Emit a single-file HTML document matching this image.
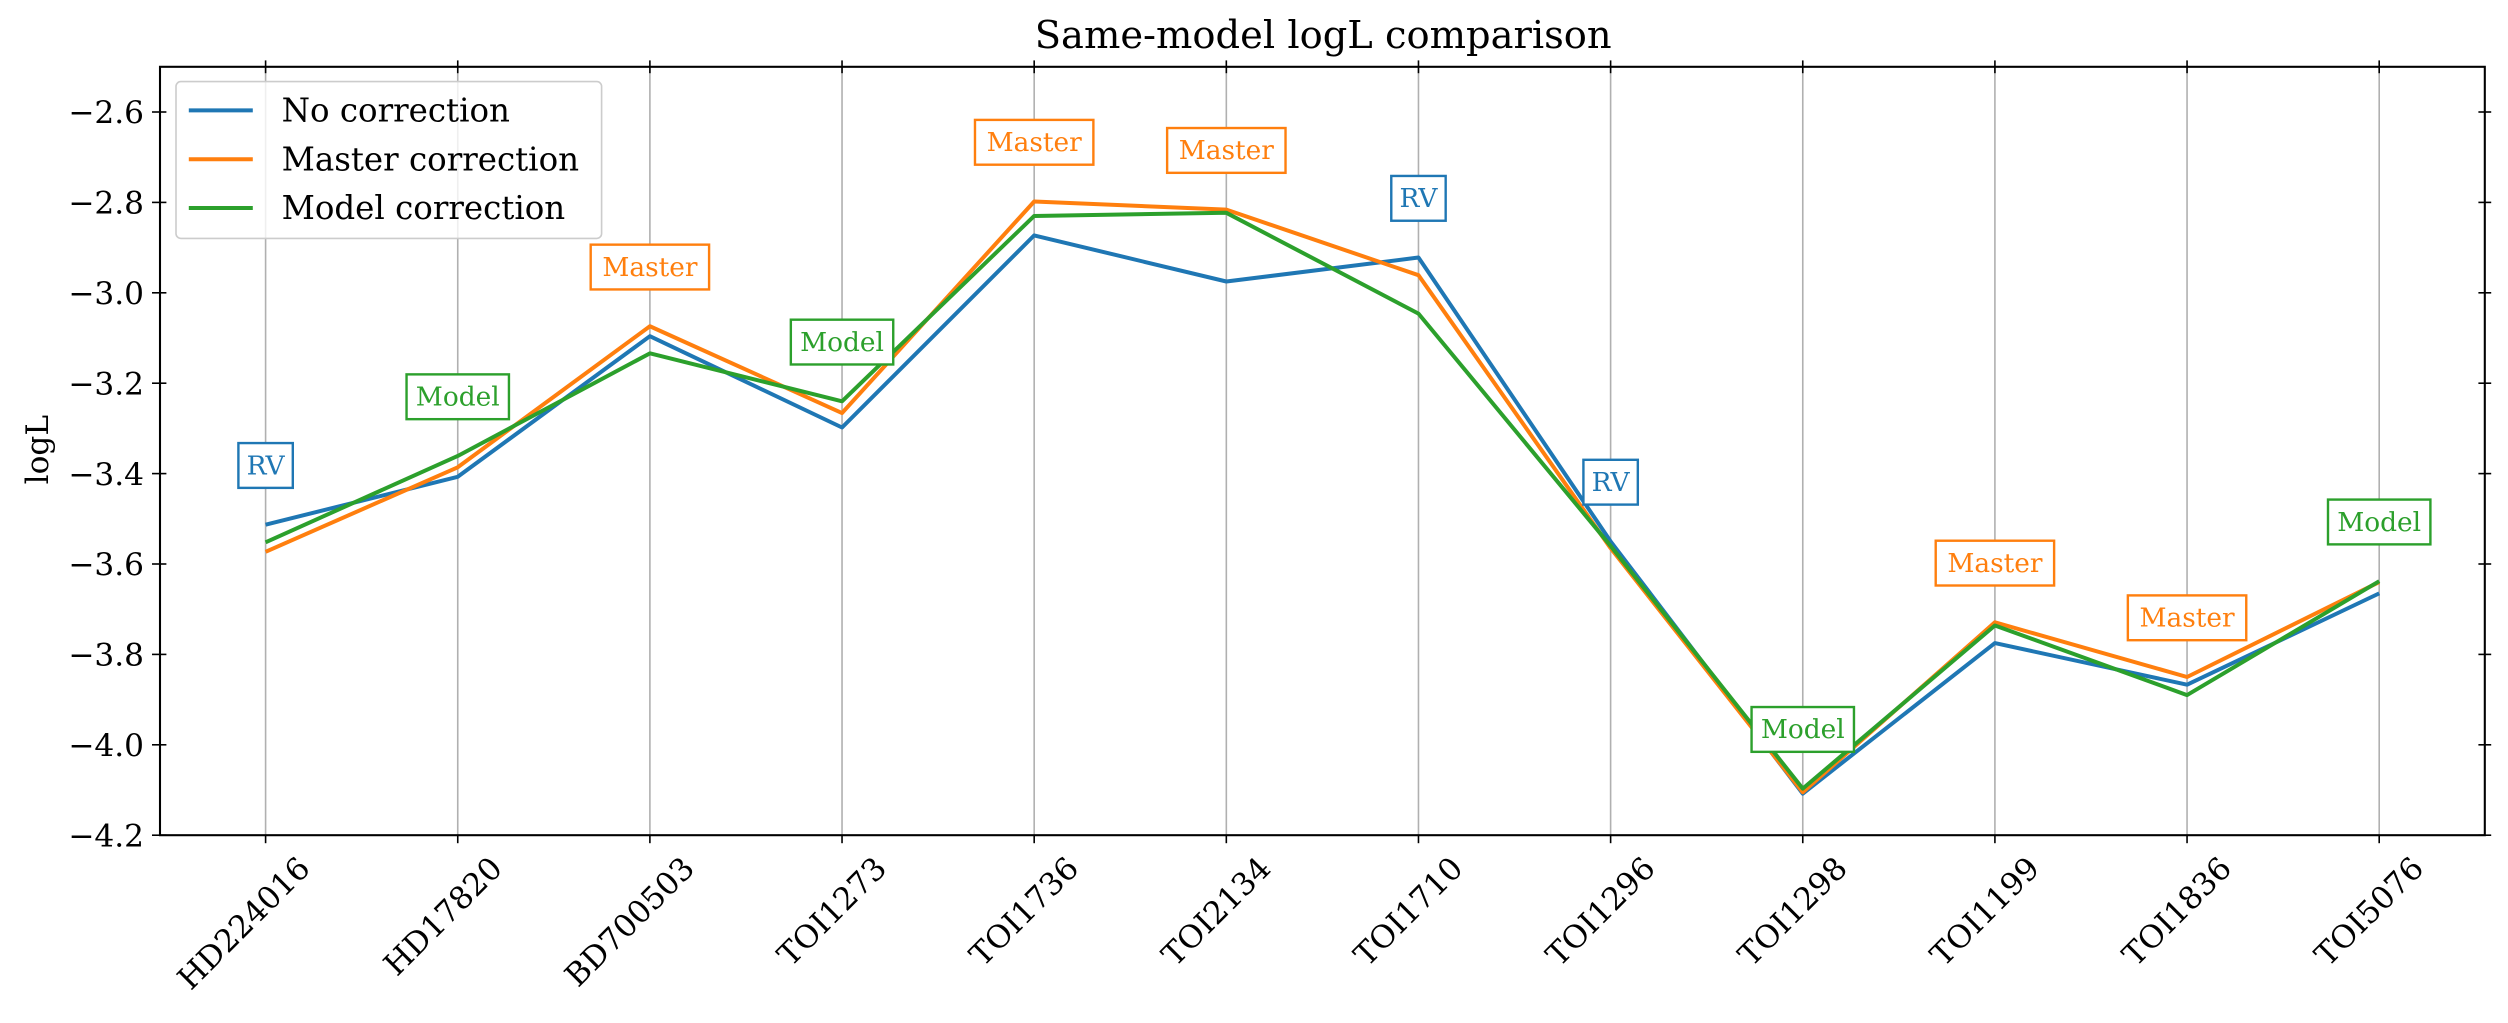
<!DOCTYPE html>
<html><head><meta charset="utf-8"><style>
html,body{margin:0;padding:0;background:#fff;}
svg{display:block;font-family:"DejaVu Serif","Liberation Serif",serif;}
</style></head><body>
<svg id="chart" width="2508" height="1023" viewBox="0 0 1567.5 639.375" xmlns="http://www.w3.org/2000/svg">
<rect x="0" y="0" width="1567.5" height="639.375" fill="#fff"/>
<text x="827" y="30" text-anchor="middle" font-size="24">Same-model logL comparison</text>
<text transform="translate(30,281) rotate(-90)" text-anchor="middle" font-size="19.5">logL</text>
<g id="grid"></g><g id="series"></g><g id="annots"></g><g id="axes"></g><g id="legend"></g>
</svg>
<script>
const categories=["HD224016","HD17820","BD700503","TOI1273","TOI1736","TOI2134","TOI1710","TOI1296","TOI1298","TOI1199","TOI1836","TOI5076"];
const noCorrection=[-3.513,-3.407,-3.096,-3.298,-2.873,-2.975,-2.922,-3.55,-4.108,-3.775,-3.867,-3.665];
const masterCorrection=[-3.573,-3.386,-3.074,-3.266,-2.798,-2.816,-2.961,-3.565,-4.105,-3.729,-3.85,-3.64];
const modelCorrection=[-3.552,-3.361,-3.134,-3.24,-2.83,-2.823,-3.046,-3.56,-4.097,-3.736,-3.89,-3.638];
const bestLabels=["RV","Model","Master","Model","Master","Master","RV","RV","Model","Master","Master","Model"];
const yTicks=[-2.6,-2.8,-3.0,-3.2,-3.4,-3.6,-3.8,-4.0,-4.2];
const seriesNames=["No correction","Master correction","Model correction"];

const L=100,R=1553,T=41.75,B=522,yMin=-4.2,yMax=-2.5;
const colors={"No correction":"#1f77b4","Master correction":"#ff7f0e","Model correction":"#2ca02c"};
const labelColor={"RV":"#1f77b4","Master":"#ff7f0e","Model":"#2ca02c"};
const xs=i=>166+i*(1487-166)/(categories.length-1);
const ys=v=>B-(v-yMin)/(yMax-yMin)*(B-T);
const NS="http://www.w3.org/2000/svg";
function mk(tag,attrs,parent){const e=document.createElementNS(NS,tag);for(const k in attrs)e.setAttribute(k,attrs[k]);parent.appendChild(e);return e;}
const grid=document.getElementById('grid'),ser=document.getElementById('series'),ann=document.getElementById('annots'),ax=document.getElementById('axes'),leg=document.getElementById('legend');
categories.forEach((c,i)=>{
  const g=mk('line',{x1:xs(i),x2:xs(i),y1:T,y2:B,stroke:'#b0b0b0','stroke-width':1},grid);
  
  
  mk('line',{x1:xs(i),x2:xs(i),y1:B,y2:B+5,stroke:'#000','stroke-width':1},ax);
  mk('line',{x1:xs(i),x2:xs(i),y1:T-4,y2:T+4,stroke:'#000','stroke-width':1},ax);
  const t=mk('text',{transform:`translate(${xs(i)+19},${B+12}) rotate(-45)`,'text-anchor':'end','font-size':19.5,'dominant-baseline':'hanging'},ax);
  t.textContent=c;
  
  
});
[[noCorrection,seriesNames[0]],[masterCorrection,seriesNames[1]],[modelCorrection,seriesNames[2]]].forEach(([arr,name])=>{
  const p=mk('polyline',{points:arr.map((v,i)=>xs(i)+','+ys(v)).join(' '),fill:'none',stroke:colors[name],'stroke-width':2.5,'stroke-linejoin':'round'},ser);
  
  
});
categories.forEach((c,i)=>{
  const top=Math.min(ys(noCorrection[i]),ys(masterCorrection[i]),ys(modelCorrection[i]));
  const cy=top-37,lab=bestLabels[i],col=labelColor[lab];
  const g=mk('g',{},ann);
  
  
  const w=lab.length*10+14;
  mk('rect',{x:xs(i)-w/2,y:cy-14,width:w,height:28,fill:'#fff',stroke:col,'stroke-width':1.5},g);
  const t=mk('text',{x:xs(i),y:cy+5.5,'text-anchor':'middle','font-size':16.5,fill:col},g);
  t.textContent=lab;
});
const fr=mk('rect',{x:L,y:T,width:R-L,height:B-T,fill:'none',stroke:'#000','stroke-width':1.3},ax);


yTicks.forEach(v=>{
  mk('line',{x1:L-5,x2:L+4,y1:ys(v),y2:ys(v),stroke:'#000','stroke-width':1},ax);
  mk('line',{x1:R-4,x2:R+4,y1:ys(v),y2:ys(v),stroke:'#000','stroke-width':1},ax);
  const t=mk('text',{x:L-10,y:ys(v)+7,'text-anchor':'end','font-size':19.5},ax);
  t.textContent=(v<0?'\u2212':'')+Math.abs(v).toFixed(1);
  
  
});
const lb=mk('rect',{x:110,y:51,width:266,height:98,rx:3,fill:'#fff','fill-opacity':0.8,stroke:'#ccc','stroke-width':1},leg);


seriesNames.forEach((n,k)=>{
  const y=69+k*30.5;
  const g=mk('g',{},leg);
  
  
  mk('line',{x1:118,x2:158,y1:y,y2:y,stroke:colors[n],'stroke-width':2.5},g);
  const t=mk('text',{x:176,y:y+7,'font-size':20.3},g);
  t.textContent=n;
});
</script>
</body></html>
